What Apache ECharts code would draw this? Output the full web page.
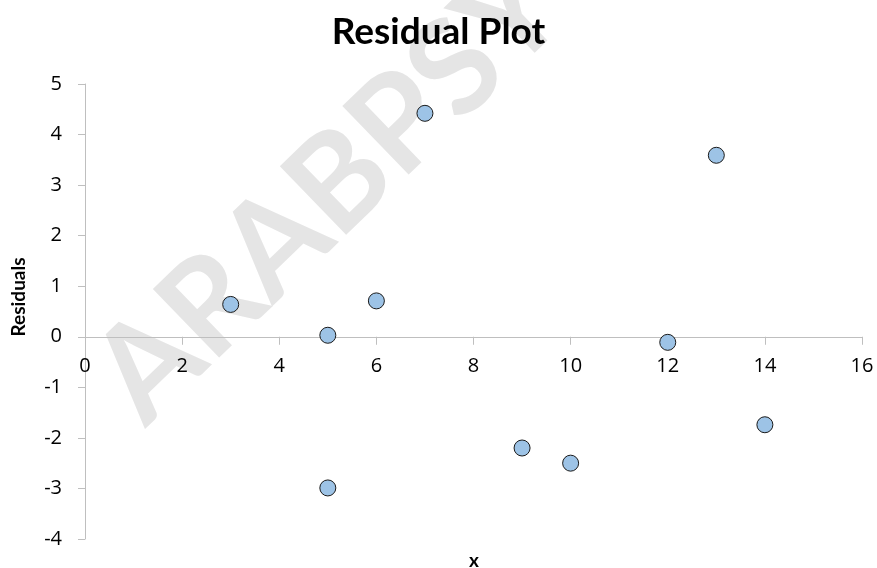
<!DOCTYPE html>
<html>
<head>
<meta charset="utf-8">
<script src="https://cdn.jsdelivr.net/npm/echarts@6/dist/echarts.min.js"></script>
<style>html,body{margin:0;padding:0;background:#fff;}#c{width:877px;height:568px;}</style>
</head>
<body>
<div id="c"></div>
<script>
// Data
var xValues = [3, 5, 5, 6, 7, 9, 10, 12, 13, 14];
var residuals = [0.64, 0.03, -2.99, 0.71, 4.42, -2.20, -2.50, -0.11, 3.59, -1.74];
var chartTitle = 'Residual Plot';
var xTitle = 'x';
var yTitle = 'Residuals';
var watermark = 'ARABPSYCHOLOGY';
var xMin = 0, xMax = 16, xStep = 2;
var yMin = -4, yMax = 5, yStep = 1;

var points = xValues.map(function (x, i) { return [x, residuals[i]]; });
var FONT = 'Lato, "Open Sans", sans-serif';
var TICKFONT = '"Open Sans", Lato, sans-serif';

var chart = echarts.init(document.getElementById('c'), null, {renderer: 'canvas'});
chart.setOption({
  backgroundColor: '#ffffff',
  animation: false,
  title: {
    text: chartTitle,
    left: 'center',
    top: 9,
    textStyle: {fontFamily: FONT, fontWeight: 'bold', fontSize: 37, color: '#000'},
    z: 10
  },
  grid: {left: 85, right: 15, top: 84, bottom: 29, containLabel: false, outerBoundsMode: 'none'},
  xAxis: {
    type: 'value', min: xMin, max: xMax, interval: xStep,
    axisLine: {show: true, onZero: false, lineStyle: {color: '#bfbfbf', width: 1}},
    axisTick: {show: true, inside: false, length: 8, lineStyle: {color: '#bfbfbf'}},
    axisLabel: {margin: 20, fontFamily: TICKFONT, fontSize: 20, color: '#000'},
    splitLine: {show: false}
  },
  yAxis: {
    type: 'value', min: yMin, max: yMax, interval: yStep,
    axisLine: {show: true, lineStyle: {color: '#bfbfbf', width: 1}},
    axisTick: {show: true, inside: false, length: 7, lineStyle: {color: '#bfbfbf'}},
    axisLabel: {margin: 23, fontFamily: TICKFONT, fontSize: 20, color: '#000'},
    splitLine: {show: false}
  },
  graphic: [
    {
      type: 'text', z: -10, x: 116, y: 398, rotation: Math.PI * 44 / 180,
      style: {text: watermark, fill: '#e5e5e5', font: 'bold 132px ' + FONT, textAlign: 'left', textVerticalAlign: 'middle'},
      silent: true
    },
    {
      type: 'text', x: 19, y: 297, rotation: Math.PI / 2,
      style: {text: yTitle, fill: '#000', font: 'bold 19px ' + FONT, textAlign: 'center', textVerticalAlign: 'middle'}
    },
    {
      type: 'text', x: 474, y: 561,
      style: {text: xTitle, fill: '#000', font: 'bold 19px ' + FONT, textAlign: 'center', textVerticalAlign: 'middle'}
    }
  ],
  series: [{
    type: 'scatter',
    data: points,
    symbol: 'circle',
    symbolSize: 16,
    itemStyle: {color: '#9dc3e6', borderColor: '#1a1a1a', borderWidth: 1, opacity: 1},
    z: 5
  }]
});
// Move the x axis (line, ticks and labels) up to y = 0, using the library's own scale
var zeroY = chart.convertToPixel({yAxisIndex: 0}, 0);
var bottomY = chart.convertToPixel({yAxisIndex: 0}, yMin);
chart.setOption({xAxis: {offset: zeroY - bottomY}});
</script>
</body>
</html>
